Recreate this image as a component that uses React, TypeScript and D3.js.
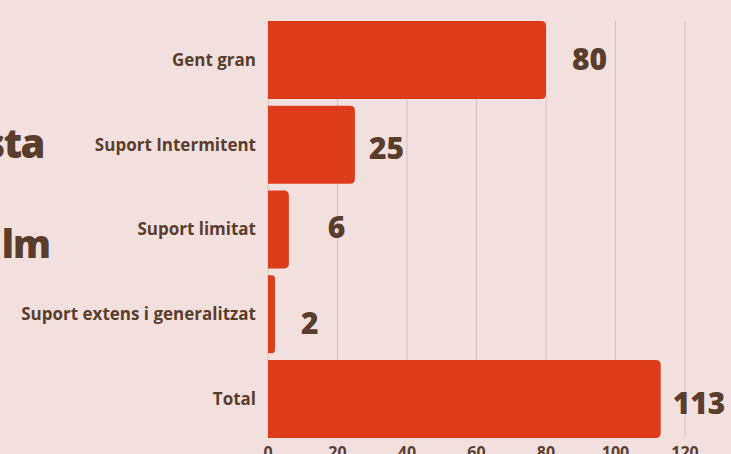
import { useEffect, useRef } from 'react';
import * as d3 from 'd3';

const categories = [
  'Gent gran',
  'Suport Intermitent',
  'Suport limitat',
  'Suport extens i generalitzat',
  'Total',
];
const values = [80, 25, 6, 2, 113];
const xTicks = [0, 20, 40, 60, 80, 100, 120];
const titleFragments = ['sta', 'lm'];

// hand-placed value labels in the original, small pixel nudges [dx, dy]
const labelNudge: [number, number][] = [
  [12, -2],
  [0, 2],
  [25, -4],
  [12, 8],
  [-2, 3],
];

const WIDTH = 731;
const HEIGHT = 454;
const BG = '#f2e0de';
const BAR = '#dd3c1a';
const TEXT = '#5a3e2d';
const GRID = '#d3c2c0';
const FONT = '"Open Sans", "DejaVu Sans", sans-serif';

export default function App() {
  const svgRef = useRef<SVGSVGElement>(null);

  useEffect(() => {
    if (!svgRef.current) return;
    const svg = d3.select(svgRef.current);
    svg.selectAll('*').remove();

    svg.append('rect')
      .attr('width', WIDTH)
      .attr('height', HEIGHT)
      .attr('fill', BG);

    const x = d3.scaleLinear().domain([0, 120]).range([268, 685]);
    const y = d3.scaleBand<string>()
      .domain(categories)
      .range([17.6, 441.4])
      .paddingInner(0.08)
      .paddingOuter(0.04);

    const top = y(categories[0])!;
    const bottom = y(categories[categories.length - 1])! + y.bandwidth();

    // gridlines
    svg.append('g')
      .selectAll('line')
      .data(xTicks)
      .join('line')
      .attr('x1', d => x(d))
      .attr('x2', d => x(d))
      .attr('y1', top)
      .attr('y2', bottom)
      .attr('stroke', GRID)
      .attr('stroke-width', 1);

    // tick labels (cut by the bottom edge, as in the original)
    svg.append('g')
      .selectAll('text')
      .data(xTicks)
      .join('text')
      .attr('x', d => x(d))
      .attr('y', 458)
      .attr('text-anchor', 'middle')
      .attr('font-family', FONT)
      .attr('font-weight', 700)
      .attr('font-size', 16)
      .attr('fill', TEXT)
      .text(d => d);

    // bars: square at the left, rounded at the right
    const r = 5;
    const barPath = (v: number, cat: string) => {
      const x0 = x(0);
      const x1 = x(v);
      const y0 = y(cat)!;
      const h = y.bandwidth();
      const rr = Math.min(r, (x1 - x0) / 2);
      return `M${x0},${y0}H${x1 - rr}Q${x1},${y0} ${x1},${y0 + rr}` +
        `V${y0 + h - rr}Q${x1},${y0 + h} ${x1 - rr},${y0 + h}H${x0}Z`;
    };

    svg.append('g')
      .selectAll('path')
      .data(values)
      .join('path')
      .attr('d', (d, i) => barPath(d, categories[i]))
      .attr('fill', BAR);

    // category labels
    svg.append('g')
      .selectAll('text')
      .data(categories)
      .join('text')
      .attr('x', 256)
      .attr('y', d => y(d)! + y.bandwidth() / 2)
      .attr('dy', '0.34em')
      .attr('text-anchor', 'end')
      .attr('font-family', FONT)
      .attr('font-weight', 700)
      .attr('font-size', 17)
      .attr('fill', TEXT)
      .text(d => d);

    // value labels
    svg.append('g')
      .selectAll('text')
      .data(values)
      .join('text')
      .attr('x', (d, i) => x(d) + 14 + labelNudge[i][0])
      .attr('y', (d, i) => y(categories[i])! + y.bandwidth() / 2 + 12 + labelNudge[i][1])
      .attr('font-family', FONT)
      .attr('font-weight', 800)
      .attr('font-size', 30)
      .attr('fill', TEXT)
      .text(d => d);

    // title fragments cut off at the left edge
    svg.append('text')
      .attr('x', 44)
      .attr('y', 158)
      .attr('text-anchor', 'end')
      .attr('font-family', FONT)
      .attr('font-weight', 800)
      .attr('font-size', 40)
      .attr('letter-spacing', -1.5)
      .attr('fill', TEXT)
      .text(titleFragments[0]);

    svg.append('text')
      .attr('x', 50)
      .attr('y', 258)
      .attr('text-anchor', 'end')
      .attr('font-family', FONT)
      .attr('font-weight', 800)
      .attr('font-size', 38)
      .attr('letter-spacing', -1)
      .attr('fill', TEXT)
      .text(titleFragments[1]);
  }, []);

  return (
    <svg
      ref={svgRef}
      width={WIDTH}
      height={HEIGHT}
      style={{ position: 'absolute', left: 0, top: 0, display: 'block' }}
    />
  );
}
